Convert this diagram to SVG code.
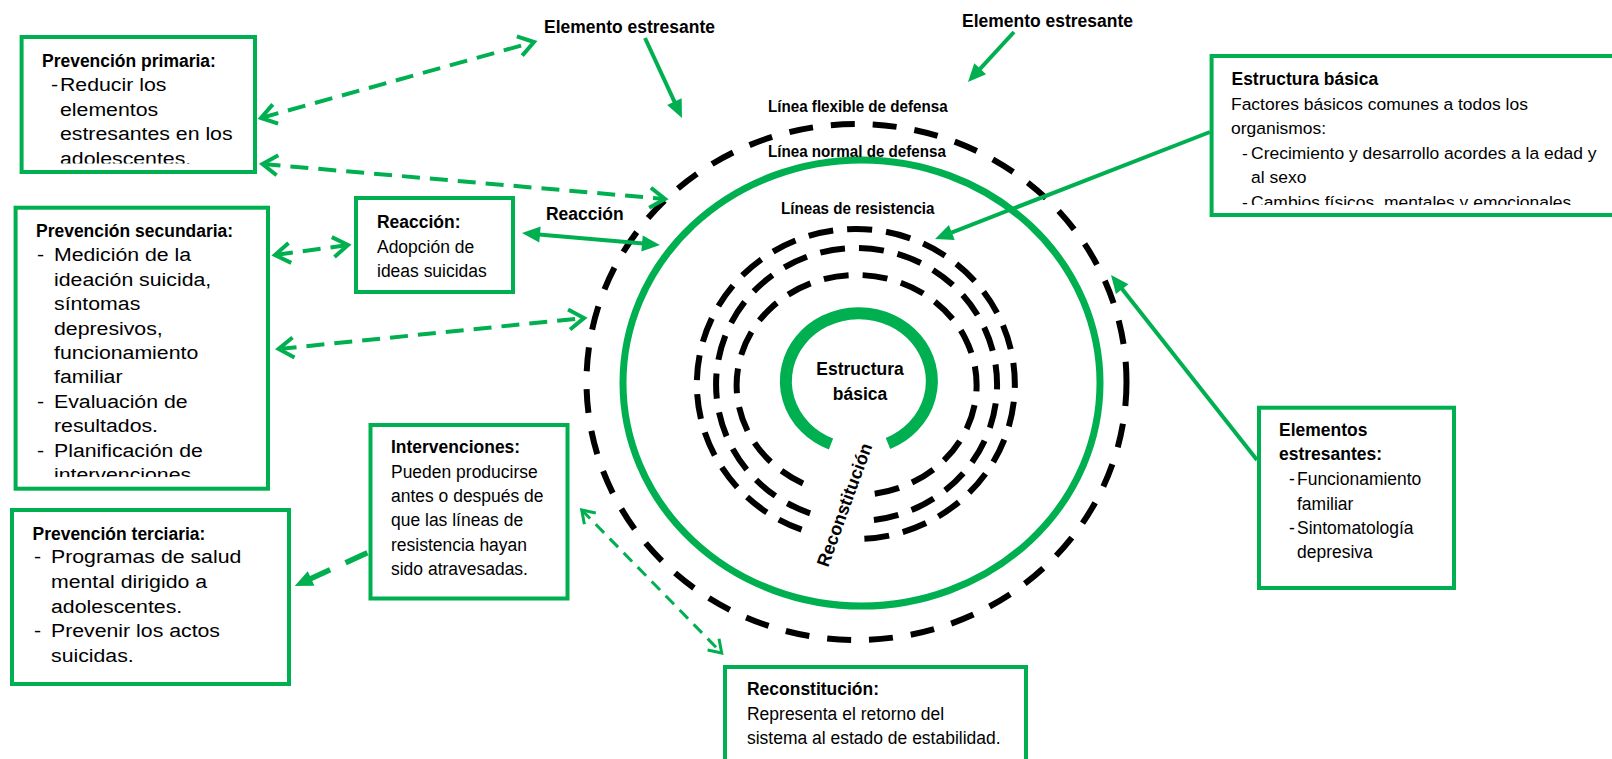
<svg xmlns="http://www.w3.org/2000/svg" width="1612" height="759" viewBox="0 0 1612 759">
<style>
.t{font-family:'Liberation Sans',Arial,Helvetica,sans-serif;fill:#000}
.b{font-weight:bold;font-size:19px}
.r{font-size:19px}
.s{font-size:15.6px}
.c{font-weight:bold;font-size:16.5px}
.box{fill:#fff;stroke:#00B050;stroke-width:4}
.sol{fill:none;stroke:#00B050;stroke-width:4}
.dsh{fill:none;stroke:#00B050;stroke-width:4;stroke-dasharray:18 10}
.blk{fill:none;stroke:#000;stroke-width:6;stroke-dasharray:25 14}
</style>
<defs>
<marker id="tri" viewBox="-12 -9 22 18" refX="0" refY="0" markerWidth="22" markerHeight="18" markerUnits="userSpaceOnUse" orient="auto-start-reverse">
<path d="M-10,-8 L8,0 L-10,8 Z" fill="#00B050"/>
</marker>
<marker id="chev" viewBox="-20 -13 26 26" refX="0" refY="0" markerWidth="26" markerHeight="26" markerUnits="userSpaceOnUse" orient="auto-start-reverse">
<path d="M-15,-10 L0,0 L-15,10" fill="none" stroke="#00B050" stroke-width="4"/>
</marker>
<marker id="chevs" viewBox="-16 -11 22 22" refX="0" refY="0" markerWidth="22" markerHeight="22" markerUnits="userSpaceOnUse" orient="auto-start-reverse">
<path d="M-12,-8 L0,0 L-12,8" fill="none" stroke="#00B050" stroke-width="3"/>
</marker>
<clipPath id="clip1"><rect x="0" y="0" width="1612" height="163.5"/></clipPath>
<clipPath id="clip2"><rect x="0" y="0" width="1612" height="477"/></clipPath>
<clipPath id="clip3"><rect x="0" y="0" width="1612" height="205"/></clipPath>
</defs>
<rect width="1612" height="759" fill="#fff"/>

<g id="model">
<ellipse id="linea-flexible" cx="856.5" cy="382" rx="270" ry="258" fill="none" stroke="#000" stroke-width="6" stroke-dasharray="24 18"/>
<ellipse id="linea-normal" cx="861.5" cy="383" rx="238.5" ry="223" fill="none" stroke="#00B050" stroke-width="7"/>
<path id="resistencia-1" class="blk" d="M801.6,529.7 A159,155 0 1 1 861.5,538.9"/>
<path id="resistencia-2" class="blk" d="M810.1,513.3 A140.5,136.5 0 1 1 861.4,520.9"/>
<path id="resistencia-3" class="blk" d="M803,483.4 A120,110 0 1 1 870,494.3"/>
<path id="estructura-anillo" d="M831,444 A73,68 0 1 1 888,443.5" fill="none" stroke="#00B050" stroke-width="12"/>
<g transform="translate(860 0) scale(0.92 1)"><text class="t b" x="0" y="375" text-anchor="middle">Estructura</text><text class="t b" x="0" y="400" text-anchor="middle">básica</text></g>
<text class="t" font-weight="bold" font-size="18" transform="translate(828 568) rotate(-70)">Reconstitución</text>
<g transform="translate(768 0) scale(0.92 1)"><text class="t c" x="0" y="112">Línea flexible de defensa</text><text class="t c" x="0" y="157">Línea normal de defensa</text></g>
<g transform="translate(781 0) scale(0.92 1)"><text class="t c" x="0" y="214">Líneas de resistencia</text></g>
</g>

<g id="estresante-izq" transform="translate(544 0) scale(0.92 1)"><text class="t b" x="0" y="33">Elemento estresante</text></g>
<g id="estresante-der" transform="translate(962 0) scale(0.92 1)"><text class="t b" x="0" y="27">Elemento estresante</text></g>
<g id="reaccion-label" transform="translate(546 0) scale(0.92 1)"><text class="t b" x="0" y="220">Reacción</text></g>

<g id="prevencion-primaria">
<rect class="box" x="21.6" y="37" width="233.4" height="135"/>
<g transform="translate(42 0) scale(0.92 1)"><text class="t b" x="0" y="67">Prevención primaria:</text></g>
<g clip-path="url(#clip1)"><g transform="translate(60 0) scale(1.12 1)">
<text class="t r" x="-8" y="91.5">-</text>
<text class="t r" x="0" y="91.5">Reducir los</text>
<text class="t r" x="0" y="116">elementos</text>
<text class="t r" x="0" y="140.5">estresantes en los</text>
<text class="t r" x="0" y="165">adolescentes.</text>
</g></g>
</g>

<g id="prevencion-secundaria">
<rect class="box" x="15.6" y="207.7" width="252.4" height="281"/>
<g transform="translate(36 0) scale(0.92 1)"><text class="t b" x="0" y="237">Prevención secundaria:</text></g>
<g clip-path="url(#clip2)"><g transform="translate(54 0) scale(1.12 1)">
<text class="t r" x="-15.2" y="261.4">-</text>
<text class="t r" x="0" y="261.4">Medición de la</text>
<text class="t r" x="0" y="285.8">ideación suicida,</text>
<text class="t r" x="0" y="310.2">síntomas</text>
<text class="t r" x="0" y="334.6">depresivos,</text>
<text class="t r" x="0" y="359">funcionamiento</text>
<text class="t r" x="0" y="383.4">familiar</text>
<text class="t r" x="-15.2" y="407.8">-</text>
<text class="t r" x="0" y="407.8">Evaluación de</text>
<text class="t r" x="0" y="432.2">resultados.</text>
<text class="t r" x="-15.2" y="456.6">-</text>
<text class="t r" x="0" y="456.6">Planificación de</text>
<text class="t r" x="0" y="481">intervenciones</text>
</g></g>
</g>

<g id="prevencion-terciaria">
<rect class="box" x="12" y="510" width="277" height="174"/>
<g transform="translate(32.5 0) scale(0.92 1)"><text class="t b" x="0" y="540">Prevención terciaria:</text></g>
<g transform="translate(51 0) scale(1.12 1)">
<text class="t r" x="-15.2" y="563">-</text>
<text class="t r" x="0" y="563">Programas de salud</text>
<text class="t r" x="0" y="588">mental dirigido a</text>
<text class="t r" x="0" y="613">adolescentes.</text>
<text class="t r" x="-15.2" y="637">-</text>
<text class="t r" x="0" y="637">Prevenir los actos</text>
<text class="t r" x="0" y="662">suicidas.</text>
</g>
</g>

<g id="reaccion">
<rect class="box" x="356" y="198" width="157" height="94"/>
<g transform="translate(377 0) scale(0.92 1)">
<text class="t b" x="0" y="228">Reacción:</text>
<text class="t r" x="0" y="252.7">Adopción de</text>
<text class="t r" x="0" y="277">ideas suicidas</text>
</g>
</g>

<g id="intervenciones">
<rect class="box" x="370.5" y="425" width="197" height="173.5"/>
<g transform="translate(391 0) scale(0.92 1)">
<text class="t b" x="0" y="453">Intervenciones:</text>
<text class="t r" x="0" y="478">Pueden producirse</text>
<text class="t r" x="0" y="502">antes o después de</text>
<text class="t r" x="0" y="526.5">que las líneas de</text>
<text class="t r" x="0" y="551">resistencia hayan</text>
<text class="t r" x="0" y="575.5">sido atravesadas.</text>
</g>
</g>

<g id="estructura-basica">
<rect class="box" x="1211.6" y="56" width="420" height="159"/>
<g transform="translate(1231.5 0) scale(0.92 1)"><text class="t b" x="0" y="85">Estructura básica</text></g>
<g clip-path="url(#clip3)"><g transform="translate(1231 0) scale(1.12 1)">
<text class="t s" x="0" y="110">Factores básicos comunes a todos los</text>
<text class="t s" x="0" y="134">organismos:</text>
<text class="t s" x="9.8" y="159">-</text>
<text class="t s" x="17.9" y="159">Crecimiento y desarrollo acordes a la edad y</text>
<text class="t s" x="17.9" y="183.5">al sexo</text>
<text class="t s" x="9.8" y="208">-</text>
<text class="t s" x="17.9" y="208">Cambios físicos, mentales y emocionales</text>
</g></g>
</g>

<g id="elementos-estresantes">
<rect class="box" x="1259" y="407.7" width="195" height="180.3"/>
<g transform="translate(1279 0) scale(0.92 1)">
<text class="t b" x="0" y="436">Elementos</text>
<text class="t b" x="0" y="460">estresantes:</text>
</g>
<g transform="translate(1297 0) scale(0.92 1)">
<text class="t r" x="-8.7" y="485">-</text>
<text class="t r" x="0" y="485">Funcionamiento</text>
<text class="t r" x="0" y="510">familiar</text>
<text class="t r" x="-8.7" y="534">-</text>
<text class="t r" x="0" y="534">Sintomatología</text>
<text class="t r" x="0" y="558">depresiva</text>
</g>
</g>

<g id="reconstitucion">
<rect class="box" x="725" y="667" width="301" height="120"/>
<g transform="translate(747 0) scale(0.92 1)">
<text class="t b" x="0" y="695">Reconstitución:</text>
<text class="t r" x="0" y="720.5">Representa el retorno del</text>
<text class="t r" x="0" y="744">sistema al estado de estabilidad.</text>
</g>
</g>

<g id="connectors">
<line class="sol" x1="645" y1="38" x2="678.6" y2="110.7" marker-end="url(#tri)"/>
<line class="sol" x1="1014" y1="32" x2="973.4" y2="76.1" marker-end="url(#tri)"/>
<line class="sol" x1="1210" y1="132" x2="942.5" y2="236.1" marker-end="url(#tri)"/>
<line class="sol" x1="1257" y1="460" x2="1116" y2="281.3" marker-end="url(#tri)"/>
<line class="sol" x1="530" y1="233.7" x2="652" y2="244.3" stroke-width="5" marker-start="url(#tri)" marker-end="url(#tri)"/>
<line class="dsh" x1="261" y1="118" x2="534" y2="42" marker-start="url(#chev)" marker-end="url(#chev)"/>
<line class="dsh" x1="262.5" y1="164" x2="665" y2="199" marker-start="url(#chev)" marker-end="url(#chev)"/>
<line class="dsh" x1="275" y1="255" x2="348" y2="245" marker-start="url(#chev)" marker-end="url(#chev)"/>
<line class="dsh" x1="278.6" y1="349" x2="584" y2="318" marker-start="url(#chev)" marker-end="url(#chev)"/>
<line x1="367.4" y1="552.7" x2="302" y2="582.7" fill="none" stroke="#00B050" stroke-width="5.5" stroke-dasharray="24 17" marker-end="url(#tri)"/>
<line x1="581.7" y1="510" x2="721.7" y2="653" fill="none" stroke="#00B050" stroke-width="3" stroke-dasharray="12 8" marker-start="url(#chevs)" marker-end="url(#chevs)"/>
</g>
</svg>
